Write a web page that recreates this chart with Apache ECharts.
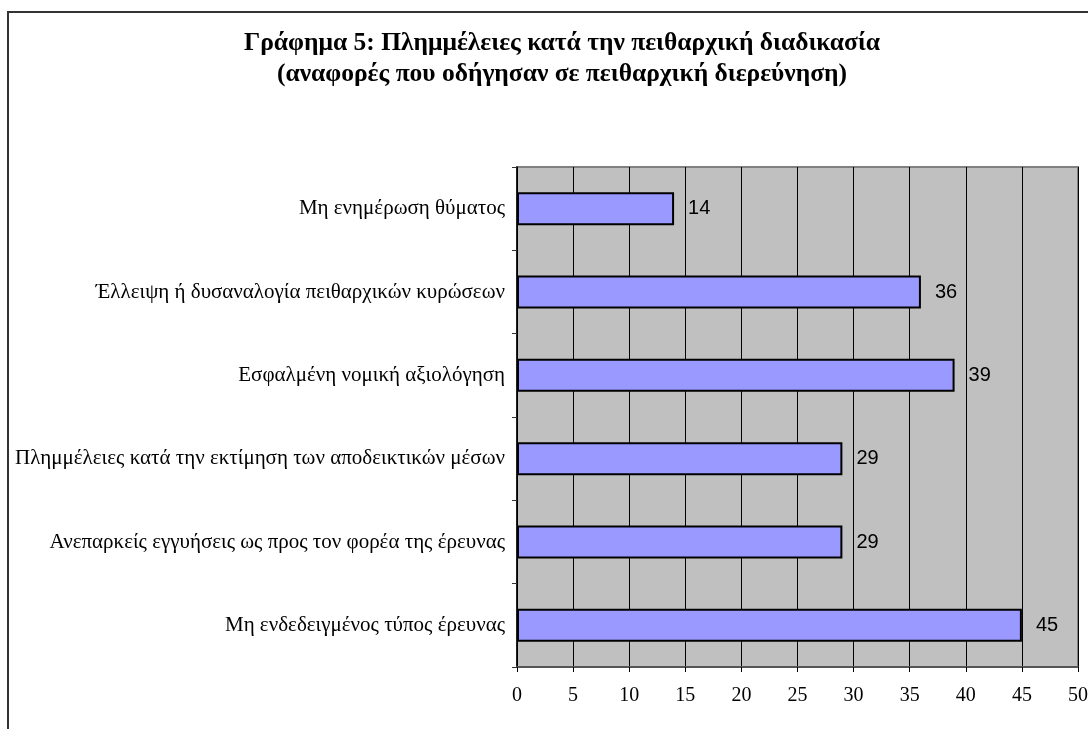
<!DOCTYPE html>
<html>
<head>
<meta charset="utf-8">
<script src="https://cdn.jsdelivr.net/npm/echarts@6/dist/echarts.min.js"></script>
<style>
  html, body { margin: 0; padding: 0; background: #fff; }
  #chart { width: 1088px; height: 729px; }
</style>
</head>
<body>
<div id="chart"></div>
<script>
// categories top to bottom
const categories = [
  'Μη ενημέρωση θύματος',
  'Έλλειψη ή δυσαναλογία πειθαρχικών κυρώσεων',
  'Εσφαλμένη νομική αξιολόγηση',
  'Πλημμέλειες κατά την εκτίμηση των αποδεικτικών μέσων',
  'Ανεπαρκείς εγγυήσεις ως προς τον φορέα της έρευνας',
  'Μη ενδεδειγμένος τύπος έρευνας'
]
const values = [14, 36, 39, 29, 29, 45]
const axisMin = 0
const axisMax = 50
const axisStep = 5
const titleText = 'Γράφημα 5: Πλημμέλειες κατά την πειθαρχική διαδικασία\n(αναφορές που οδήγησαν σε πειθαρχική διερεύνηση)'

const serif = '"Liberation Serif", "DejaVu Serif", serif'
const sans = '"Liberation Sans", Arial, sans-serif'

const chart = echarts.init(document.getElementById('chart'))
chart.setOption({
  animation: false,
  backgroundColor: '#fff',
  graphic: [{
    // chart title, centred over the plot a bit right of the page centre
    type: 'text',
    x: 562,
    y: 28,
    style: {
      text: titleText,
      align: 'center',
      verticalAlign: 'top',
      fontFamily: serif,
      fontSize: 25.5,
      fontWeight: 'bold',
      fill: '#000',
      lineHeight: 31
    }
  }, {
    type: 'rect',
    shape: { x: 8, y: 12, width: 1200, height: 800 },
    style: { fill: 'none', stroke: '#333', lineWidth: 2 },
    z: 100
  }],
  grid: {
    left: 517,
    right: 10,
    top: 167,
    bottom: 62,
    outerBoundsMode: 'none',
    show: true,
    backgroundColor: '#c0c0c0',
    borderColor: '#808080',
    borderWidth: 2
  },
  xAxis: {
    type: 'value',
    min: axisMin,
    max: axisMax,
    interval: axisStep,
    axisLine: { show: true, lineStyle: { color: '#555', width: 2 } },
    axisTick: { show: true, inside: false, length: 5, lineStyle: { color: '#000' } },
    axisLabel: {
      margin: 19,
      fontFamily: serif,
      fontSize: 20,
      color: '#000'
    },
    splitLine: { show: true, lineStyle: { color: '#000', width: 1 } }
  },
  yAxis: {
    type: 'category',
    data: categories,
    inverse: true,
    axisLine: { show: true, lineStyle: { color: '#000', width: 1.5 } },
    axisTick: { show: true, inside: false, length: 5, alignWithLabel: false, lineStyle: { color: '#333' } },
    axisLabel: {
      margin: 12,
      fontFamily: serif,
      fontSize: 21,
      color: '#000'
    },
    splitLine: { show: false }
  },
  series: [{
    type: 'bar',
    data: values,
    barWidth: 33,
    itemStyle: {
      color: '#9999ff',
      borderColor: '#000',
      borderWidth: 2
    },
    label: {
      show: true,
      position: 'right',
      distance: 14,
      fontFamily: sans,
      fontSize: 20,
      color: '#000'
    }
  }]
})
</script>
</body>
</html>
